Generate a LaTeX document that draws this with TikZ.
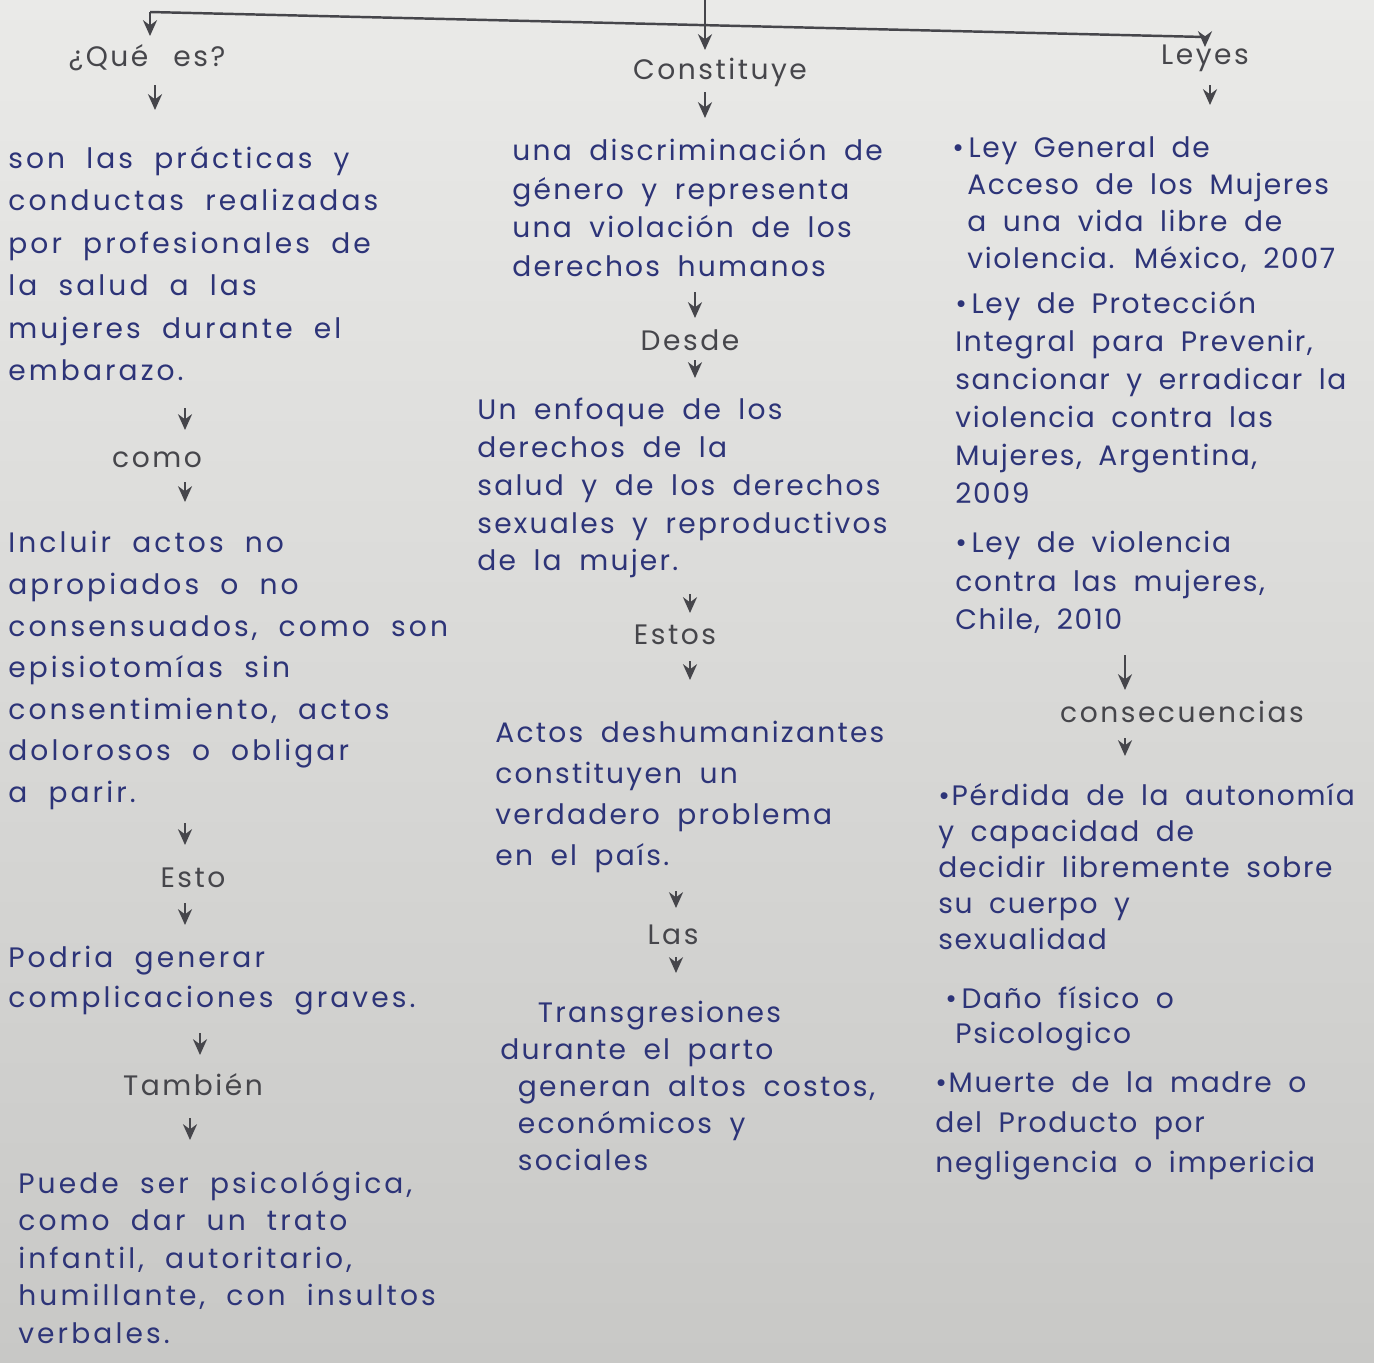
\documentclass[tikz,border=0pt]{standalone}
\usepackage{fontspec}
\setmainfont{Poppins}
\newfontfamily\handA{Poppins}[LetterSpace=11,WordSpace=2]
\newfontfamily\handB{Poppins}[LetterSpace=8,WordSpace=1.8]
\newfontfamily\handC{Poppins}[LetterSpace=6,WordSpace=1.8]
\newfontfamily\handL{Poppins}[LetterSpace=9,WordSpace=2.5]
\usetikzlibrary{arrows.meta}
\definecolor{ink}{RGB}{45,52,120}
\definecolor{pencil}{RGB}{70,70,75}
\definecolor{papertop}{RGB}{234,234,232}
\definecolor{paperbot}{RGB}{200,200,198}
\def\famcur{\handA}
\tikzset{
  txt/.style={font=\famcur\fontsize{16}{#1}\selectfont, text=ink, align=left, anchor=north west, inner sep=0pt},
  txt/.default=23,
  lbl/.style={font=\handL\fontsize{16}{20}\selectfont, text=pencil, inner sep=0pt},
  arr/.style={draw=pencil, line width=1.3pt, -{Stealth[length=9pt,width=8pt]}},
  ln/.style={draw=pencil, line width=1.4pt}
}
\begin{document}
\begin{tikzpicture}[x=0.02cm,y=-0.02cm]
\useasboundingbox (0,0) rectangle (1374,1363);
\shade[top color=papertop, bottom color=paperbot] (0,0) rectangle (1374,1363);

% top connector
\coordinate (top) at (705,0);
\coordinate (tc) at (705,50);
\coordinate (tl) at (150,12);
\coordinate (tlb) at (150,36);
\coordinate (tr) at (1205,37);
\coordinate (trb) at (1205,47);
\draw[ln] (tl) -- (tr);
\draw[arr] (top) -- (tc);
\draw[arr] (tl) -- (tlb);
\draw[arr] (tr) -- (trb);

% ---------- column 1
\begin{scope}
\def\famcur{\handA}
\node[lbl] (qe) at (147,58) {¿Qué es?};
\node[txt=24.2] (def) at (8,146) {son las prácticas y\\conductas realizadas\\por profesionales de\\la salud a las\\mujeres durante el\\embarazo.};
\node[lbl] (como) at (157,460) {como};
\node[txt=23.7] (inc) at (8,531) {Incluir actos no\\apropiados o no\\consensuados, como son\\episiotomías sin\\consentimiento, actos\\dolorosos o obligar\\a parir.};
\node[lbl] (esto) at (193,878) {Esto};
\node[txt=22.8] (pod) at (8,946) {Podria generar\\complicaciones graves.};
\node[lbl] (tamb) at (193,1085) {También};
\node[txt=21.3] (pue) at (18,1171) {Puede ser psicológica,\\como dar un trato\\infantil, autoritario,\\humillante, con insultos\\verbales.};
\end{scope}

\coordinate (a1s) at (155,85);  \coordinate (a1e) at (155,110);
\coordinate (a2s) at (185,408); \coordinate (a2e) at (185,430);
\coordinate (a3s) at (185,482); \coordinate (a3e) at (185,502);
\coordinate (a4s) at (185,823); \coordinate (a4e) at (185,845);
\coordinate (a5s) at (185,903); \coordinate (a5e) at (185,925);
\coordinate (a6s) at (200,1033);\coordinate (a6e) at (200,1055);
\coordinate (a7s) at (190,1118);\coordinate (a7e) at (190,1140);
\foreach \i in {1,...,7} {\draw[arr] (a\i s) -- (a\i e);}

% ---------- column 2
\begin{scope}
\def\famcur{\handB}
\node[lbl] (cons) at (720,72) {Constituye};
\node[txt=22] (dis) at (512,138) {una discriminación de\\género y representa\\una violación de los\\derechos humanos};
\node[lbl] (desde) at (690,340) {Desde};
\node[txt=21.5] (enf) at (477,398) {Un enfoque de los\\derechos de la\\salud y de los derechos\\sexuales y reproductivos\\de la mujer.};
\node[lbl] (estos) at (675,635) {Estos};
\node[txt=23.3] (act) at (495,721) {Actos deshumanizantes\\constituyen un\\verdadero problema\\en el país.};
\node[lbl] (las) at (673,935) {Las};
\node[txt=21] (tra) at (500,1001) {\hspace*{0.75cm}Transgresiones\\durante el parto\\\hspace*{0.35cm}generan altos costos,\\\hspace*{0.35cm}económicos y\\\hspace*{0.35cm}sociales};
\end{scope}

\coordinate (b1s) at (705,92);  \coordinate (b1e) at (705,118);
\coordinate (b2s) at (695,292); \coordinate (b2e) at (695,318);
\coordinate (b3s) at (695,360); \coordinate (b3e) at (695,378);
\coordinate (b4s) at (690,594); \coordinate (b4e) at (690,613);
\coordinate (b5s) at (690,661); \coordinate (b5e) at (690,680);
\coordinate (b6s) at (676,891); \coordinate (b6e) at (676,908);
\coordinate (b7s) at (676,957); \coordinate (b7e) at (676,973);
\foreach \i in {1,...,7} {\draw[arr] (b\i s) -- (b\i e);}

% ---------- column 3
\begin{scope}
\def\famcur{\handC}
\node[lbl] (leyes) at (1205,58) {Leyes};
\node[txt=21.2] (l1) at (952,136) {•\,Ley General de\\\hspace*{0.3cm}Acceso de los Mujeres\\\hspace*{0.3cm}a una vida libre de\\\hspace*{0.3cm}violencia. México, 2007};
\node[txt=21.6] (l2) at (955,291) {•\,Ley de Protección\\Integral para Prevenir,\\sancionar y erradicar la\\violencia contra las\\Mujeres, Argentina,\\2009};
\node[txt=21.9] (l3) at (955,531) {•\,Ley de violencia\\contra las mujeres,\\Chile, 2010};
\node[lbl] (conse) at (1182,712) {consecuencias};
\node[txt=20.5] (c1) at (938,783) {•Pérdida de la autonomía\\y capacidad de\\decidir libremente sobre\\su cuerpo y\\sexualidad};
\node[txt=20] (c2) at (945,986) {•\,Daño físico o\\\hspace*{0.2cm}Psicologico};
\node[txt=22.8] (c3) at (935,1071) {•Muerte de la madre o\\del Producto por\\negligencia o impericia};
\end{scope}

\coordinate (c1s) at (1210,85);  \coordinate (c1e) at (1210,105);
\coordinate (c2s) at (1125,655); \coordinate (c2e) at (1125,690);
\coordinate (c3s) at (1125,738); \coordinate (c3e) at (1125,756);
\foreach \i in {1,...,3} {\draw[arr] (c\i s) -- (c\i e);}
\end{tikzpicture}
\end{document}
